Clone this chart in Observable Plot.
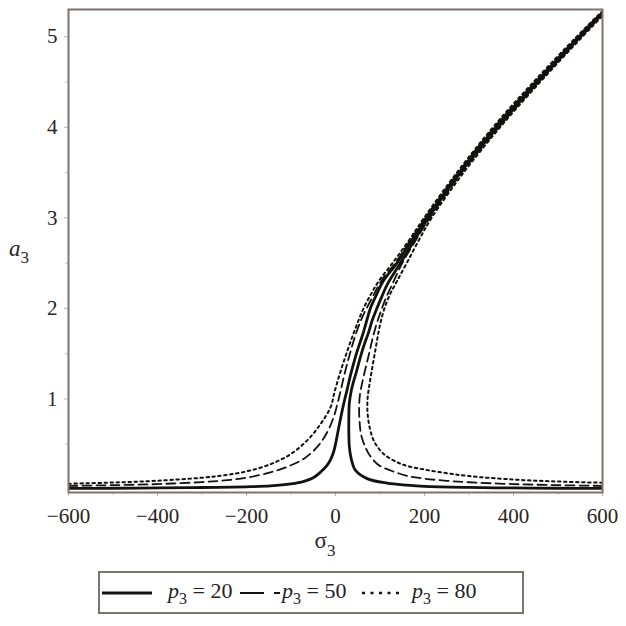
<!DOCTYPE html>
<html><head><meta charset="utf-8">
<script src="https://cdn.jsdelivr.net/npm/d3@7"></script>
<script src="https://cdn.jsdelivr.net/npm/@observablehq/plot@0.6"></script>
<style>
body{margin:0;background:#fff;font-family:'Liberation Serif';}
#wrap{position:relative;width:626px;height:626px;}
#legend{position:absolute;left:98px;top:571px;width:426px;height:43px;border:2px solid #7f736d;box-sizing:border-box;}
#legend .t{position:absolute;top:5px;font-size:22px;color:#222;white-space:nowrap;font-family:'Liberation Serif';}
#legend .t sub{font-size:16px;vertical-align:-6px;line-height:0;}
#legend svg{position:absolute;top:0;}
</style></head>
<body><div id="wrap"></div>
<script>
// sigma3 (x) and a3 (y)
const seriesNames = ["p3 = 20", "p3 = 50", "p3 = 80"];
const p20Upper = [[-600,0.012],[-500,0.014],[-400,0.017],[-300,0.022],[-200,0.03],[-146,0.04],[-100,0.062],[-71,0.09],[-50,0.13],[-34,0.19],[-20,0.26],[-11,0.33],[-4,0.42],[0,0.5],[4,0.6],[7.5,0.69],[15,0.87],[20,0.98],[26,1.1],[33,1.25],[40,1.38],[47,1.5],[55,1.62],[63,1.74],[71,1.88],[79,2.01],[92,2.15],[107,2.3],[138,2.5],[171,2.75],[205,3.0],[278,3.5],[360,4.0],[451,4.5],[547,5.0],[597,5.25],[625,5.37]];
const p20Lower = [[600,0.012],[500,0.014],[400,0.017],[300,0.023],[200,0.035],[161,0.048],[116,0.07],[71,0.12],[45,0.21],[38,0.29],[34,0.37],[31,0.48],[30,0.61],[30,0.8],[31,0.95],[35,1.08],[41,1.2],[47,1.3],[53,1.41],[60,1.53],[66,1.62],[74,1.73],[82,1.86],[93,2.0],[104,2.13],[117,2.27],[146,2.5],[177,2.75],[209,3.0],[281,3.5],[364,4.0],[455,4.5],[550,5.0],[600,5.25],[630,5.37]];
const p50Upper = [[-600,0.04],[-500,0.048],[-400,0.06],[-300,0.082],[-250,0.1],[-200,0.13],[-146,0.19],[-109,0.25],[-71,0.34],[-41,0.47],[-19,0.63],[-4,0.8],[4,0.94],[12,1.1],[19,1.25],[28,1.42],[37,1.58],[48,1.75],[60,1.9],[73,2.03],[88,2.17],[105,2.32],[134,2.5],[168,2.75],[202,3.0],[276,3.5],[357,4.0],[449,4.5],[545,5.0],[595,5.25],[625,5.38]];
const p50Lower = [[600,0.04],[500,0.048],[400,0.06],[300,0.08],[250,0.096],[200,0.12],[161,0.15],[124,0.21],[100,0.26],[86,0.32],[74,0.4],[67,0.47],[60,0.56],[56,0.65],[54,0.76],[53,0.9],[55,1.05],[61,1.2],[68,1.35],[75,1.49],[82,1.64],[90,1.79],[100,1.94],[112,2.1],[126,2.25],[150,2.5],[180,2.75],[212,3.0],[284,3.5],[367,4.0],[457,4.5],[552,5.0],[602,5.25],[630,5.37]];
const p80Upper = [[-600,0.064],[-500,0.077],[-400,0.097],[-300,0.13],[-250,0.157],[-200,0.2],[-146,0.28],[-101,0.39],[-64,0.54],[-34,0.72],[-11,0.91],[-2,1.08],[8,1.25],[19,1.42],[30,1.58],[41,1.73],[52,1.87],[64,2.01],[80,2.16],[97,2.3],[128,2.5],[165,2.75],[199,3.0],[273,3.5],[354,4.0],[445,4.5],[542,5.0],[593,5.25],[625,5.4]];
const p80Lower = [[600,0.075],[500,0.088],[400,0.11],[300,0.148],[250,0.18],[200,0.22],[161,0.26],[139,0.3],[109,0.39],[88,0.52],[77,0.68],[72,0.85],[72,1.0],[76,1.15],[81,1.3],[86,1.44],[91,1.58],[96,1.72],[102,1.86],[110,2.0],[122,2.15],[138,2.3],[160,2.5],[187,2.75],[216,3.0],[288,3.5],[370,4.0],[460,4.5],[555,5.0],[604,5.25],[630,5.38]];
const xTicks = [-600,-400,-200,0,200,400,600];
const xMinor = [-500,-300,-100,100,300,500];
const yTicks = [1,2,3,4,5];
const yMinor = [0.5,1.5,2.5,3.5,4.5];

const serif = "Liberation Serif";
const branches = [
  [seriesNames[0],"upper",p20Upper],[seriesNames[0],"lower",p20Lower],
  [seriesNames[1],"upper",p50Upper],[seriesNames[1],"lower",p50Lower],
  [seriesNames[2],"upper",p80Upper],[seriesNames[2],"lower",p80Lower]
];
const rows = branches.flatMap(([s,b,pts]) => pts.map(([x,y]) => ({series:s, branch:s+b, x, y})));
const ink = "#141110";
const frameCol = "#7f736d";
const styles = {
  [seriesNames[0]]: {strokeWidth:2.8, dash:null},
  [seriesNames[1]]: {strokeWidth:1.8, dash:"9,5"},
  [seriesNames[2]]: {strokeWidth:2.0, dash:"2.5,3.5"}
};
const lineMarks = seriesNames.map(s => Plot.line(rows.filter(d=>d.series===s), {
  x:"x", y:"y", z:"branch", stroke: ink, strokeWidth: styles[s].strokeWidth,
  strokeDasharray: styles[s].dash, curve:"catmull-rom", clip:true
}));

const chart = Plot.plot({
  width: 626, height: 560,
  marginLeft: 68, marginRight: 24, marginTop: 9, marginBottom: 68,
  style: {background:"#fff", color:"#2a2522"},
  x: {domain:[-600,600], label:null},
  y: {domain:[-0.033,5.3], label:null},
  marks: [
    ...lineMarks,
    Plot.axisX(xTicks, {tickSize:4, tickPadding:12, fontSize:21, stroke:"#b9b2ae", tickFormat: d => d<0 ? "\u2212"+(-d) : String(d), label:null}),
    Plot.axisX(xMinor, {tickSize:3, tickFormat: () => "", stroke:"#c8c2be", label:null}),
    Plot.axisY(yTicks, {tickSize:4, tickPadding:7, fontSize:21, stroke:"#b9b2ae", tickFormat: d => String(d), label:null}),
    Plot.axisY(yMinor, {tickSize:3, tickFormat: () => "", stroke:"#c8c2be", label:null}),
    Plot.frame({stroke: frameCol, strokeWidth: 2})
  ]
});
const wrap = document.getElementById("wrap");
wrap.appendChild(chart);

// axis titles with subscripts
const svg = d3.select(chart);
const tx = svg.append("text").attr("x",325).attr("y",548).attr("font-size",23).attr("fill","#2a2522");
tx.append("tspan").text("σ");
tx.append("tspan").attr("dy",8).attr("font-size",17).text("3");
const ty = svg.append("text").attr("x",19).attr("y",256).attr("font-size",23).attr("fill","#2a2522");
ty.append("tspan").attr("font-style","italic").text("a");
ty.append("tspan").attr("dy",7).attr("font-size",17).text("3");
svg.style("font-family", serif);
svg.selectAll("g").style("font-family", serif);
svg.selectAll("text").attr("font-family", serif).style("font-family", serif);

// legend
const legend = document.createElement("div");
legend.id = "legend";
const items = [
  {s:seriesNames[0], lx:2, lw:50, tx:68, val:"20"},
  {s:seriesNames[1], lx:140, lw:40, tx:182, val:"50"},
  {s:seriesNames[2], lx:262, lw:42, tx:312, val:"80"}
];
items.forEach(it => {
  const st = styles[it.s];
  const sv = d3.create("svg").attr("width", it.lw).attr("height", 39).style("left", it.lx+"px");
  const ln = sv.append("line").attr("x1",0).attr("x2",it.lw).attr("y1",20).attr("y2",20)
    .attr("stroke",ink).attr("stroke-width", st.strokeWidth+0.4);
  if (st.dash) ln.attr("stroke-dasharray", it.s===seriesNames[1] ? "24,10" : "3,5.5");
  legend.appendChild(sv.node());
  const t = document.createElement("div");
  t.className = "t";
  t.style.left = it.tx + "px";
  t.innerHTML = '<i>p</i><sub>3</sub> = ' + it.val;
  legend.appendChild(t);
});
wrap.appendChild(legend);
</script>
</body></html>
